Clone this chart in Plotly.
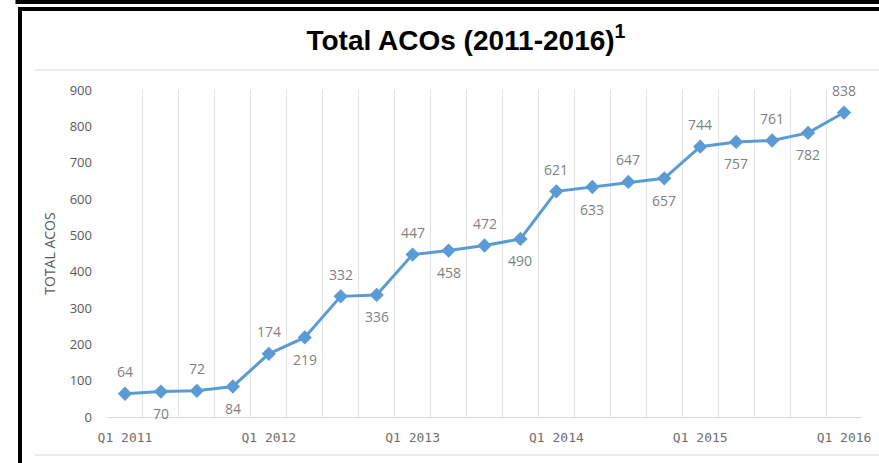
import plotly.graph_objects as go

quarters = [f"Q{q} {y}" for y in range(2011, 2016) for q in range(1, 5)] + ["Q1 2016"]
total_acos = [64, 70, 72, 84, 174, 219, 332, 336, 447, 458, 472, 490,
              621, 633, 647, 657, 744, 757, 761, 782, 838]
label_side = ["above", "below"] * 10 + ["above"]
tick_labels = [q if q.startswith("Q1") else "" for q in quarters]
y_ticks = list(range(0, 1000, 100))

fig = go.Figure()
fig.add_trace(go.Scatter(
    x=quarters, y=total_acos, mode="lines+markers",
    line=dict(color="#5B9BD5", width=3),
    marker=dict(symbol="diamond", size=11, color="#5B9BD5"),
    hoverinfo="skip", showlegend=False,
))

for q, v, side in zip(quarters, total_acos, label_side):
    fig.add_annotation(
        x=q, y=v, text=str(v), showarrow=False,
        yshift=22 if side == "above" else -22,
        font=dict(family="Open Sans", size=14, color="#7F7F7F"),
    )

fig.update_layout(
    width=879, height=463,
    margin=dict(l=107, r=17, t=90, b=46, autoexpand=False),
    paper_bgcolor="white", plot_bgcolor="white",
    title=dict(
        text="<b>Total ACOs (2011-2016)<sup>1</sup></b>",
        x=466 / 879, xanchor="center", y=1 - 40 / 463, yanchor="middle",
        font=dict(family="Liberation Sans, Arial", size=28, color="black"),
    ),
    xaxis=dict(
        type="category", range=[-0.5, 20.5],
        tickmode="array", tickvals=quarters, ticktext=tick_labels,
        tickson="boundaries", ticks="", tickangle=0, automargin=False,
        showgrid=True, gridcolor="#E3E3E3", gridwidth=1,
        showline=True, linecolor="#D9D9D9", linewidth=1,
        tickfont=dict(family="DejaVu Sans Mono", size=13, color="#6E6E6E"),
        ticklabelstandoff=8,
        zeroline=False,
    ),
    yaxis=dict(
        range=[0, 900], tickmode="array", tickvals=y_ticks,
        showgrid=False, zeroline=False, showline=False, ticks="",
        ticklabelstandoff=14, automargin=False,
        tickfont=dict(family="Open Sans", size=13, color="#595959"),
        title=dict(text="TOTAL ACOS", standoff=10,
                   font=dict(family="Open Sans", size=14, color="#595959")),
    ),
    shapes=[
        dict(type="rect", xref="paper", yref="paper", layer="above",
             x0=18 / 879 - 107 / 755, x1=1 + 17 / 755,
             y0=1 + 90 / 327, y1=1 + 86 / 327,
             fillcolor="black", line=dict(width=0)),
        dict(type="rect", xref="paper", yref="paper", layer="above",
             x0=(18 - 107) / 755, x1=1 + 17 / 755,
             y0=1 + 83 / 327, y1=1 + 79 / 327,
             fillcolor="black", line=dict(width=0)),
        dict(type="rect", xref="paper", yref="paper", layer="above",
             x0=(18 - 107) / 755, x1=(22 - 107) / 755,
             y0=-46 / 327, y1=1 + 83 / 327,
             fillcolor="black", line=dict(width=0)),
        dict(type="line", xref="paper", yref="paper",
             x0=(35 - 107) / 755, x1=1 + 17 / 755,
             y0=1 + 20 / 327, y1=1 + 20 / 327,
             line=dict(color="#EBEBEB", width=2)),
        dict(type="line", xref="paper", yref="paper",
             x0=(35 - 107) / 755, x1=1 + 17 / 755,
             y0=-38 / 327, y1=-38 / 327,
             line=dict(color="#EBEBEB", width=2)),
    ],
)

fig.write_html("out.html")
